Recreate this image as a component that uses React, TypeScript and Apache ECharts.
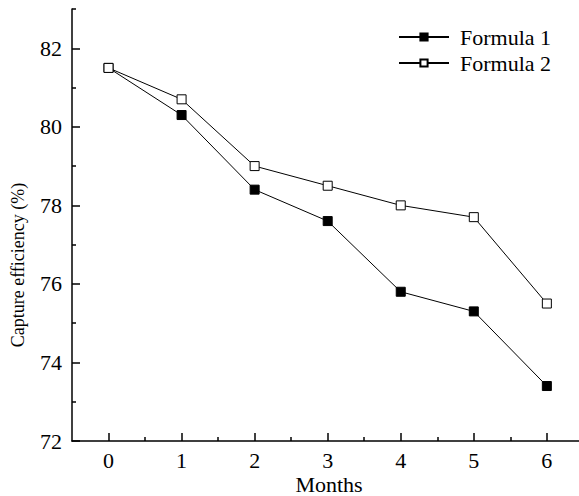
import React, { useEffect, useRef } from "react";
import * as echarts from "echarts";

const months = [0, 1, 2, 3, 4, 5, 6];
const formula1 = [81.5, 80.3, 78.4, 77.6, 75.8, 75.3, 73.4];
const formula2 = [81.5, 80.7, 79.0, 78.5, 78.0, 77.7, 75.5];
const xMajorTicks = [0, 1, 2, 3, 4, 5, 6];
const xMinorTicks = [0.5, 1.5, 2.5, 3.5, 4.5, 5.5];
const yMajorTicks = [72, 74, 76, 78, 80, 82];
const yMinorTicks = [73, 75, 77, 79, 81, 83];

const FONT = '"Liberation Serif", serif';

export default function App() {
  const ref = useRef<HTMLDivElement>(null);
  useEffect(() => {
    if (!ref.current) return;
    const chart = echarts.init(ref.current, null, { renderer: "svg" });
    const axisLine = { show: true, onZero: false, lineStyle: { color: "#000", width: 1.5 } };
    const base = { min: -0.5, max: 6.44 };
    chart.setOption({
      animation: false,
      backgroundColor: "#fff",
      textStyle: { fontFamily: FONT },
      grid: { left: 72, right: 0, top: 9, bottom: 55, containLabel: false },
      xAxis: [
        {
          type: "value",
          position: "bottom",
          ...base,
          axisLine,
          splitLine: { show: false },
          axisTick: { show: true, inside: true, length: 8, customValues: xMajorTicks, lineStyle: { color: "#000", width: 1.5 } },
          axisLabel: { customValues: xMajorTicks, color: "#000", fontFamily: FONT, fontSize: 22, margin: 8 },
        },
        {
          type: "value",
          position: "bottom",
          ...base,
          axisLine: { show: false, onZero: false },
          splitLine: { show: false },
          axisTick: { show: true, inside: true, length: 4, customValues: xMinorTicks, lineStyle: { color: "#000", width: 1.5 } },
          axisLabel: { show: false },
        },
      ],
      yAxis: [
        {
          type: "value",
          position: "left",
          min: 72,
          max: 83,
          axisLine,
          splitLine: { show: false },
          axisTick: { show: true, inside: true, length: 8, customValues: yMajorTicks, lineStyle: { color: "#000", width: 1.5 } },
          axisLabel: { customValues: yMajorTicks, color: "#000", fontFamily: FONT, fontSize: 22, margin: 10 },
        },
        {
          type: "value",
          position: "left",
          min: 72,
          max: 83,
          axisLine: { show: false, onZero: false },
          splitLine: { show: false },
          axisTick: { show: true, inside: true, length: 4, customValues: yMinorTicks, lineStyle: { color: "#000", width: 1.5 } },
          axisLabel: { show: false },
        },
      ],
      legend: {
        orient: "vertical",
        left: 398,
        top: 26,
        padding: 0,
        itemWidth: 50,
        itemHeight: 9,
        itemGap: 4,
        textStyle: { color: "#000", fontFamily: FONT, fontSize: 22, lineHeight: 22, padding: [0, 0, 0, 6] },
        data: ["Formula 1", "Formula 2"],
      },
      graphic: [
        {
          type: "text",
          x: 18,
          y: 265,
          rotation: Math.PI / 2,
          style: { text: "Capture efficiency (%)", fill: "#000", font: `18px ${FONT}`, align: "center", verticalAlign: "middle" },
        },
        {
          type: "text",
          x: 329,
          y: 484,
          style: { text: "Months", fill: "#000", font: `22px ${FONT}`, align: "center", verticalAlign: "middle" },
        },
      ],
      series: [
        {
          name: "Formula 1",
          type: "line",
          xAxisIndex: 0,
          yAxisIndex: 0,
          data: months.map((m, i) => [m, formula1[i]]),
          symbol: "rect",
          symbolSize: 9,
          lineStyle: { color: "#000", width: 1 },
          itemStyle: { color: "#000", borderColor: "#000", borderWidth: 1 },
          z: 3,
        },
        {
          name: "Formula 2",
          type: "line",
          xAxisIndex: 0,
          yAxisIndex: 0,
          data: months.map((m, i) => [m, formula2[i]]),
          symbol: "rect",
          symbolSize: 9,
          lineStyle: { color: "#000", width: 1 },
          itemStyle: { color: "#fff", borderColor: "#000", borderWidth: 1 },
          z: 4,
        },
      ],
    });
    return () => chart.dispose();
  }, []);
  return <div ref={ref} style={{ position: "fixed", left: 0, top: 0, width: 579, height: 496 }} />;
}
